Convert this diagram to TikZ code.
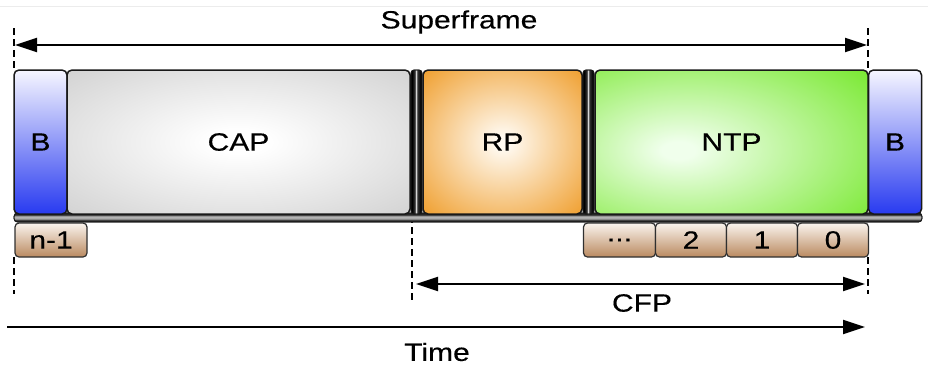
\documentclass[tikz,border=0pt]{standalone}
\usepackage{fontspec}
\setmainfont{Liberation Sans}[FakeStretch=1.2, FakeBold=0.35]
\usetikzlibrary{arrows.meta}

% palette
\definecolor{capin}{RGB}{255,255,255}
\definecolor{capout}{RGB}{196,196,196}
\definecolor{rpin}{RGB}{255,250,242}
\definecolor{rpout}{RGB}{238,152,32}
\definecolor{ntpin}{RGB}{240,255,236}
\definecolor{ntpout}{RGB}{118,232,44}
\definecolor{btop}{RGB}{246,246,255}
\definecolor{bbot}{RGB}{40,58,240}
\definecolor{slottop}{RGB}{250,244,238}
\definecolor{slotbot}{RGB}{186,138,96}
\definecolor{edge}{RGB}{25,25,25}

% soft radial glows for the period blocks
\pgfdeclareradialshading{capglow}{\pgfpoint{0bp}{0bp}}{color(0bp)=(capin); color(4bp)=(capin); color(46bp)=(capout); color(100bp)=(capout)}
\pgfdeclareradialshading{rpglow}{\pgfpoint{0bp}{0bp}}{color(0bp)=(rpin); color(2bp)=(rpin); color(38bp)=(rpout); color(100bp)=(rpout)}
\pgfdeclareradialshading{ntpglow}{\pgfpoint{-10bp}{-3bp}}{color(0bp)=(ntpin); color(3bp)=(ntpin); color(42bp)=(ntpout); color(100bp)=(ntpout)}
% metal rods: dark edges with a bright streak
\pgfdeclarehorizontalshading{vrodshade}{100bp}{color(0bp)=(black); color(30bp)=(black); color(42bp)=(black!80); color(48bp)=(gray!25); color(54bp)=(black!80); color(70bp)=(black); color(100bp)=(black)}
\pgfdeclareverticalshading{hrodshade}{100bp}{color(0bp)=(black!85); color(34bp)=(black!85); color(44bp)=(gray!70); color(56bp)=(gray!55); color(66bp)=(black!85); color(100bp)=(black!85)}

\tikzset{
  lbl/.style={font=\fontsize{25pt}{29pt}\selectfont, text=black},
  period/.style={draw=edge, line width=1.5pt, rounded corners=5pt, inner sep=0pt,
    lbl, minimum height=144pt},
  beacon/.style={period, top color=btop, bottom color=bbot, minimum width=53pt},
  slot/.style={draw=edge!90, line width=1.2pt, rounded corners=4pt, inner sep=0pt,
    top color=slottop, bottom color=slotbot, lbl, minimum height=34pt},
  rod/.style={draw=edge, line width=0.8pt, rounded corners=3pt, shading=vrodshade},
  hrod/.style={draw=edge, line width=0.8pt, rounded corners=3.5pt, shading=hrodshade},
  marker/.style={line width=2.2pt, dash pattern=on 7pt off 4pt},
  dim/.style={line width=2pt, {Triangle[length=22pt,width=14pt]}-{Triangle[length=22pt,width=14pt]}},
  timeline/.style={line width=2.2pt, -{Triangle[length=22pt,width=14pt]}}
}

\begin{document}
\begin{tikzpicture}[x=1pt, y=-1pt]
  \useasboundingbox (0,0) rectangle (928,365);
  \fill[white] (0,0) rectangle (928,365);
  \draw[gray!15, line width=1pt] (0,6) -- (928,6);

  % period boundary markers
  \coordinate (lTop) at (14,28);   \coordinate (lMid) at (14,70);
  \coordinate (lLow) at (14,257);  \coordinate (lEnd) at (14,294);
  \coordinate (rTop) at (868,28);  \coordinate (rMid) at (868,70);
  \coordinate (rLow) at (868,257); \coordinate (rEnd) at (868,294);
  \coordinate (cTop) at (412,216); \coordinate (cEnd) at (412,302);
  \draw[marker] (lTop) -- (lMid);
  \draw[marker] (lLow) -- (lEnd);
  \draw[marker] (rTop) -- (rMid);
  \draw[marker] (rLow) -- (rEnd);
  \draw[marker] (cTop) -- (cEnd);

  % superframe span
  \node[lbl] (sf) at (459,22) {Superframe};
  \coordinate (sfL) at (15,45);
  \coordinate (sfR) at (867,45);
  \draw[dim] (sfL) -- (sfR);

  % slot carrier under the periods
  \shade[hrod] (14,213) rectangle (922,222);
  \draw[edge, line width=0.8pt, rounded corners=3.5pt] (14,213) rectangle (922,222);

  % periods
  \node[beacon] (b1) at (40.5,142) {B};
  \node[period, shading=capglow, minimum width=343pt] (cap) at (238.5,142) {CAP};
  \shade[rod] (411,70) rectangle (422,214);
  \draw[edge, line width=0.8pt, rounded corners=3pt] (411,70) rectangle (422,214);
  \node[period, shading=rpglow, minimum width=159pt] (rp) at (502.5,142) {RP};
  \shade[rod] (583,70) rectangle (594,214);
  \draw[edge, line width=0.8pt, rounded corners=3pt] (583,70) rectangle (594,214);
  \node[period, shading=ntpglow, minimum width=273pt] (ntp) at (731.5,142) {NTP};
  \node[beacon] (b2) at (895,142) {B};

  % slots
  \node[slot, minimum width=72pt] (sn1) at (51,240) {n-1};
  \node[slot, minimum width=72pt] (sdots) at (619.5,240) {...};
  \node[slot, minimum width=71pt] (s2) at (691,240) {2};
  \node[slot, minimum width=71pt] (s1) at (762,240) {1};
  \node[slot, minimum width=71pt] (s0) at (833,240) {0};

  % contention-free period span
  \coordinate (cfpL) at (416,284);
  \coordinate (cfpR) at (865,284);
  \draw[dim] (cfpL) -- (cfpR);
  \node[lbl] (cfp) at (642,303) {CFP};

  % time axis
  \coordinate (tL) at (7,327);
  \coordinate (tR) at (865,327);
  \draw[timeline] (tL) -- (tR);
  \node[lbl] (time) at (437,352) {Time};
\end{tikzpicture}
\end{document}
